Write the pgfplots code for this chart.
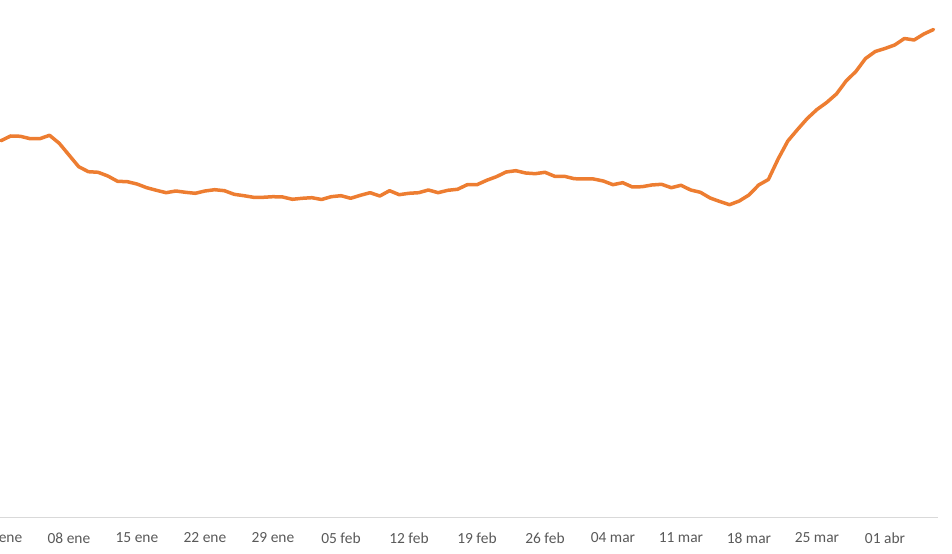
\documentclass[border=0pt]{standalone}
\usepackage{fontspec}
\setmainfont{Carlito}
\usepackage{pgfplots}
\pgfplotsset{compat=1.18}
\definecolor{lineorange}{HTML}{ED7D31}
\definecolor{axisgray}{HTML}{D9D9D9}
\definecolor{labelgray}{HTML}{595959}

\begin{document}
\begin{tikzpicture}
    \begin{axis}[
        at={(0bp,37bp)},
        anchor=south west,
        scale only axis,
        width=938.4bp,
        height=517bp,
        xmin=-0.1, xmax=96.5,
        ymin=0, ymax=517,
        axis x line=bottom,
        axis y line=none,
        x axis line style={-, draw=axisgray, line width=1bp},
        xtick={0,7,...,91},
        xticklabels={01 ene, 08 ene, 15 ene, 22 ene, 29 ene, 05 feb, 12 feb,
                     19 feb, 26 feb, 04 mar, 11 mar, 18 mar, 25 mar, 01 abr},
        major tick length=0pt,
        xticklabel style={
            font=\fontsize{15.5}{18}\selectfont,
            text=labelgray,
            anchor=north,
            yshift=-12bp,
        },
        clip=false,
    ]

    % ---- daily series (01 ene .. 06 abr) ----
    \addplot[lineorange, line width=3.5bp, line join=round, line cap=round]
        coordinates {
            (0,376.3) (1,381) (2,380.7) (3,378.3) (4,378.3) (5,381.7) (6,373.7)
            (7,362) (8,350.3) (9,345.3) (10,344.7) (11,341) (12,335.7) (13,335.3)
            (14,333) (15,329.3) (16,326.7) (17,324.3) (18,326) (19,324.7) (20,323.7)
            (21,326) (22,327.3) (23,326.3) (24,322.7) (25,321.3) (26,319.7) (27,319.7)
            (28,320.3) (29,320) (30,317.7) (31,318.7) (32,319.3) (33,317.5) (34,320.3)
            (35,321.3) (36,318.7) (37,321.7) (38,324.3) (39,321) (40,326.3) (41,322.3)
            (42,323.7) (43,324.3) (44,327) (45,324.3) (46,326.7) (47,327.7) (48,332.3)
            (49,332.3) (50,336.7) (51,340.3) (52,345) (53,346.3) (54,344) (55,343.3)
            (56,344.7) (57,340.7) (58,340.7) (59,338.3) (60,338) (61,338) (62,336)
            (63,332.3) (64,334.3) (65,330) (66,330.3) (67,332) (68,332.7) (69,329.3)
            (70,331.7) (71,327) (72,324.7) (73,319) (74,315.5) (75,312.3) (76,316)
            (77,322) (78,332) (79,337.5) (80,358) (81,376) (82,387.5) (83,398.5)
            (84,407.5) (85,414.5) (86,423) (87,436) (88,445.5) (89,458.5) (90,465.5)
            (91,468.5) (92,472) (93,478.5) (94,477) (95,483) (96,487.5)
        };

    \end{axis}
    \pgfresetboundingbox
    \path[use as bounding box] (0bp,0bp) rectangle (952bp,554bp);
\end{tikzpicture}
\end{document}
